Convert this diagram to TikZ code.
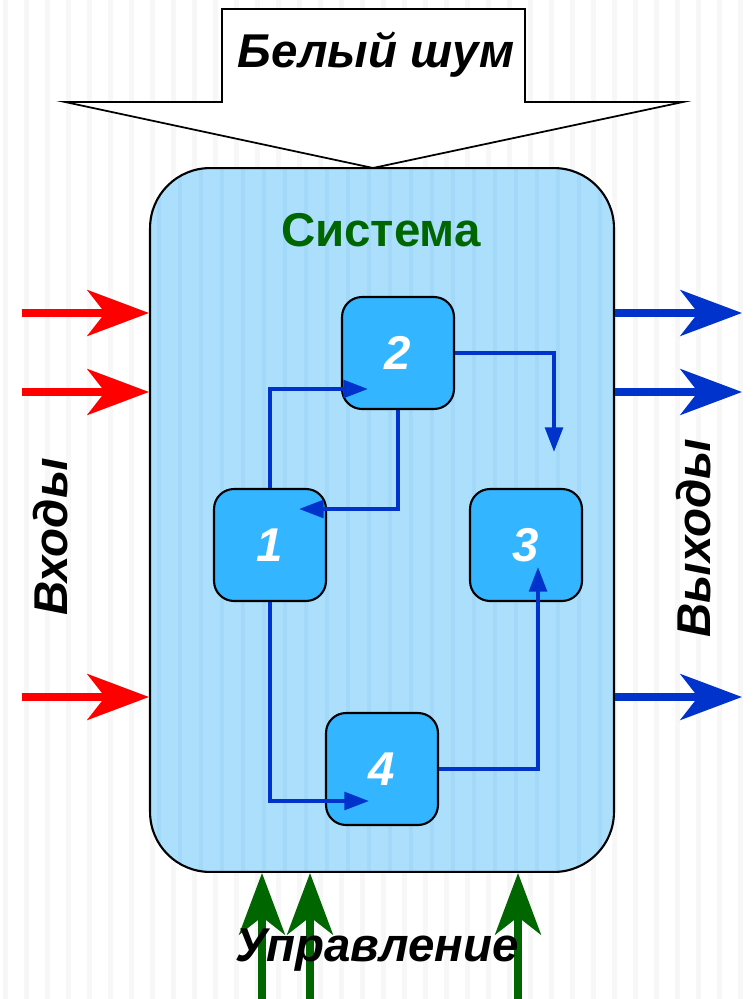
\documentclass[tikz,border=0pt]{standalone}
\usepackage{fontspec}
\setmainfont{Liberation Sans}
\usepackage{tikz}
\usetikzlibrary{arrows.meta,calc}

\definecolor{sysblue}{HTML}{ABDFFB}
\definecolor{stripeblue}{HTML}{A2D9F8}
\definecolor{boxblue}{HTML}{33B5FF}
\definecolor{flowblue}{HTML}{0033CC}
\definecolor{ctrlgreen}{HTML}{006600}

\tikzset{
  lbl/.style={font=\fontsize{27}{30}\selectfont\bfseries\itshape, inner sep=0pt},
  blk/.style={draw, line width=1.2pt, fill=boxblue, rounded corners=0.4cm,
    minimum width=2.24cm, minimum height=2.24cm, text=white,
    font=\fontsize{27}{29}\selectfont\bfseries\itshape},
  flow/.style={flowblue, line width=2.2pt, -{Triangle[length=14pt,width=10pt]}},
  bigarr/.style={line width=4.5pt, -{Stealth[length=35pt,width=26pt,inset=10pt]}}
}

\begin{document}
\begin{tikzpicture}[x=0.02cm, y=-0.02cm]
  \useasboundingbox (0,0) rectangle (752,999);
  % Striped backdrop
  \foreach \x in {3,24,...,752}
    \fill[gray!6] (\x,0) rectangle ++(5,999);
  % White noise callout
  \draw[line width=1pt, fill=white] (222,9) -- (525,9) -- (525,102) -- (683,102)
    -- (373,168) -- (65,102) -- (222,102) -- cycle;
  \node[lbl] (noise) at (376,55) {Белый шум};
  % System body
  \fill[sysblue, rounded corners=1.2cm] (150,168) rectangle (614,872);
  \begin{scope}
    \clip[rounded corners=1.2cm] (150,168) rectangle (614,872);
    \foreach \x in {157,178,...,614}
      \fill[stripeblue] (\x,168) rectangle ++(4,704);
  \end{scope}
  \node[draw, line width=1.2pt, rounded corners=1.2cm, minimum width=9.28cm,
    minimum height=14.08cm] (sys) at (382,520) {};
  \node[font=\fontsize{27}{29}\selectfont\bfseries, text=ctrlgreen] (systitle)
    at (381,230) {Система};
  % Inner blocks
  \node[blk] (b2) at (398,353) {2};
  \node[blk] (b1) at (270,545) {1};
  \node[blk] (b3) at (526,545) {3};
  \node[blk] (b4) at (382,769) {4};
  % Links between blocks
  \coordinate (open3) at (554,452);
  \draw[flow] (b1.north) |- ($(b2)+(-30,36)$);
  \draw[flow] (b2.south) |- ($(b1)+(29,-36)$);
  \draw[flow] (b2.east) -| (open3);
  \draw[flow] (b1.south) |- ($(b4)+(-13,32)$);
  \draw[flow] (b4.east) -| ($(b3)+(12,22)$);
  % Inputs
  \foreach \y [count=\i] in {313,392,697} {
    \coordinate (in\i) at (22,\y);
    \draw[bigarr, red] (in\i) -- (in\i -| sys.west);
  }
  \node[lbl, rotate=90] (inlbl) at (51,537) {Входы};
  % Outputs
  \foreach \y [count=\i] in {313,392,697} {
    \coordinate (out\i) at (742,\y);
    \draw[bigarr, flowblue] (out\i -| sys.east) -- (out\i);
  }
  \node[lbl, rotate=90] (outlbl) at (694,538) {Выходы};
  % Control
  \foreach \x [count=\i] in {262,310,518} {
    \coordinate (ctl\i) at (\x,999);
    \draw[bigarr, ctrlgreen] (ctl\i) -- (ctl\i |- sys.south);
  }
  \node[lbl] (ctllbl) at (377,950) {Управление};
\end{tikzpicture}
\end{document}
